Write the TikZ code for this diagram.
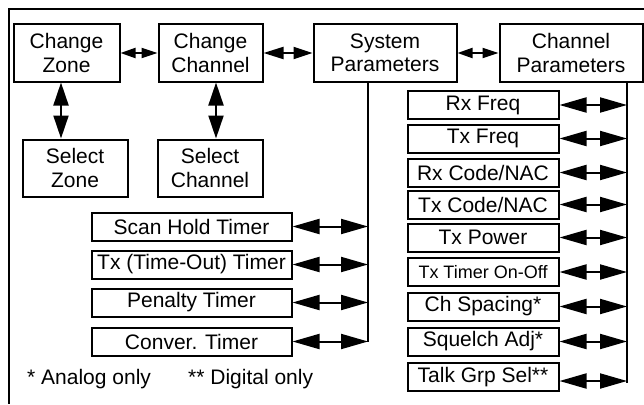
\documentclass[tikz,border=0pt]{standalone}
\usepackage{fontspec}
\setmainfont{Liberation Sans}
\usetikzlibrary{arrows.meta}
\begin{document}
\begin{tikzpicture}[x=1pt,y=-1pt,
  box/.style={draw,line width=2pt,inner sep=0pt,align=center,font=\fontsize{21}{23.5}\selectfont},
  bigbox/.style={box,minimum height=57pt},
  tbox/.style={box,minimum width=200pt,minimum height=28pt},
  pbox/.style={box,minimum width=151pt,minimum height=28pt},
  wire/.style={line width=2pt},
  hdbl/.style={line width=2pt,{Triangle[length=27pt,width=15pt]}-{Triangle[length=27pt,width=15pt]}},
  mdbl/.style={line width=2pt,{Triangle[length=20pt,width=12pt]}-{Triangle[length=19pt,width=12pt]}},
  vdbl/.style={line width=2pt,{Triangle[length=23pt,width=15pt]}-{Triangle[length=23pt,width=15pt]}},
  sdbl/.style={line width=2pt,{Triangle[length=15pt,width=10pt]}-{Triangle[length=16pt,width=10pt]}},
  note/.style={anchor=west,inner sep=0pt,font=\fontsize{21}{23.5}\selectfont}
]
\useasboundingbox (0,0) rectangle (644,404);
% frame
\draw[wire] (644,9) -- (9,9) -- (9,404);
% top row
\node[bigbox,minimum width=106pt] (cz) at (66.5,53) {Change\\Zone};
\node[bigbox,minimum width=104pt] (cc) at (210.5,53) {Change\\Channel};
\node[bigbox,minimum width=143pt] (sp) at (385,53) {System\\Parameters};
\node[bigbox,minimum width=143pt] (cp) at (571,53) {Channel\\Parameters};
\node[bigbox,minimum width=105pt] (sz) at (75,168) {Select\\Zone};
\node[bigbox,minimum width=105pt] (sc) at (210,168) {Select\\Channel};
\draw[sdbl] (cz.east) -- (cc.west);
\draw[mdbl] (cc.east) -- (sp.west);
\draw[sdbl] (sp.east) -- (cp.west);
\draw[vdbl] ([xshift=-5.5pt]cz.south) -- ([xshift=-5.5pt]cz.south |- sz.north);
\draw[vdbl] ([xshift=5.5pt]cc.south) -- ([xshift=5.5pt]cc.south |- sc.north);
% buses
\coordinate (spb) at (368,82);
\coordinate (spe) at (368,342);
\coordinate (cpb) at (627,82);
\coordinate (cpe) at (627,383);
\draw[wire] (spb) -- (spe);
\draw[wire] (cpb) -- (cpe);
% timers
\node[tbox] (t1) at (191.5,226.5) {Scan Hold Timer};
\node[tbox] (t2) at (191.5,264.5) {Tx (Time-Out) Timer};
\node[tbox] (t3) at (191.5,302.5) {Penalty Timer};
\node[tbox] (t4) at (191.5,341.5) {Conver. Timer};
\foreach \n in {t1,t2,t3,t4} \draw[hdbl] (\n.east) -- (\n.east -| spb);
% channel parameters
\node[pbox] (r1) at (483,105) {Rx Freq};
\node[pbox] (r2) at (483,138.5) {Tx Freq};
\node[pbox] (r3) at (483,172.5) {Rx Code/NAC};
\node[pbox] (r4) at (483,204.5) {Tx Code/NAC};
\node[pbox] (r5) at (483,237.5) {Tx Power};
\node[pbox,font=\fontsize{18}{20}\selectfont] (r6) at (483,272) {Tx Timer On-Off};
\node[pbox] (r7) at (483,306.5) {Ch Spacing*};
\node[pbox] (r8) at (483,341.5) {Squelch Adj*};
\node[pbox] (r9) at (483,377) {Talk Grp Sel**};
\foreach \n in {r1,r2,r3,r4,r5,r6,r7,r8} \draw[hdbl] (\n.east) -- (\n.east -| cpb);
\draw[hdbl] ([yshift=-4pt]r9.east) -- ([yshift=-4pt]r9.east -| cpb);
% notes
\node[note] (n1) at (27,379) {* Analog only};
\node[note] (n2) at (188,379) {** Digital only};
\end{tikzpicture}
\end{document}
